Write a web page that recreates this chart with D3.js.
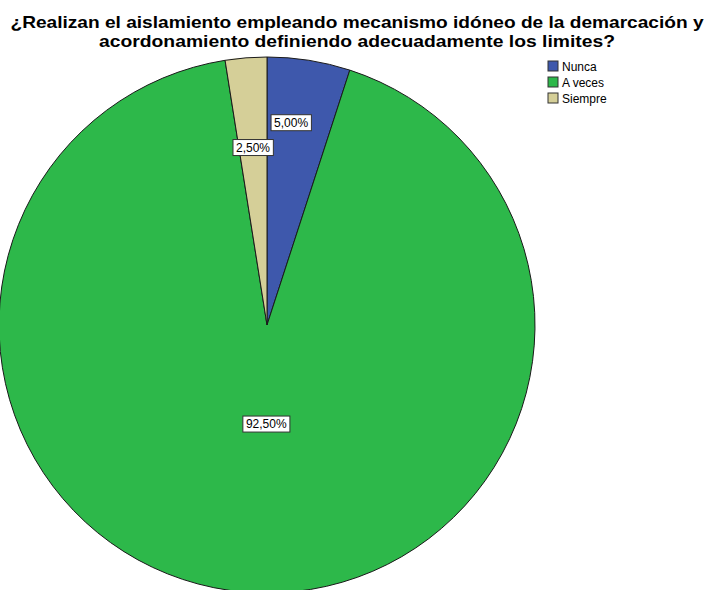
<!DOCTYPE html>
<html>
  <head>
  <title>Pie</title>
  <style>
    body, html { margin: 0; padding: 0; background: #fff; }
    svg { display: block; }
    text { font-family: "Liberation Sans", Arial, sans-serif; }
  </style>
  </head>
  <body>
  <svg id="svg" width="711" height="590"></svg>

  <script src="https://d3js.org/d3.v7.min.js"></script>
  <script>
    const categories = ['Nunca', 'A veces', 'Siempre']
    const values = [5.0, 92.5, 2.5]
    const valueLabels = ['5,00%', '92,50%', '2,50%']
    const colors = ['#3e58ac', '#2db84a', '#d5cf98']
    const titleLines = [
      '¿Realizan el aislamiento empleando mecanismo idóneo de la demarcación y',
      'acordonamiento definiendo adecuadamente los limites?'
    ]

    const svg = d3.select('#svg')
    const cx = 267, cy = 325, radius = 268

    // title (stretched to the width it has in the original)
    const titleWidths = [693, 516]
    svg.append('g')
      .selectAll('text')
      .data(titleLines)
      .join('text')
      .attr('x', 357)
      .attr('y', (d, i) => 28 + i * 19)
      .attr('text-anchor', 'middle')
      .attr('font-size', 16.5)
      .attr('font-weight', 'bold')
      .attr('fill', '#000')
      .attr('textLength', (d, i) => titleWidths[i])
      .attr('lengthAdjust', 'spacingAndGlyphs')
      .text(d => d)

    const pie = d3.pie().sort(null).value(d => d)
    const arcs = pie(values)
    const arc = d3.arc().innerRadius(0).outerRadius(radius)

    const g = svg.append('g').attr('transform', `translate(${cx},${cy})`)

    g.selectAll('path')
      .data(arcs)
      .join('path')
      .attr('d', arc)
      .attr('fill', (d, i) => colors[i])
      .attr('stroke', '#1a1a1a')
      .attr('stroke-width', 1)

    // label distance from centre, as a share of the radius
    const labelR = [0.765, 0.37, 0.665]
    const labels = g.selectAll('g.lab')
      .data(arcs)
      .join('g')
      .attr('class', 'lab')
      .attr('transform', (d, i) => {
        const a = (d.startAngle + d.endAngle) / 2
        const r = radius * labelR[i]
        let x = Math.sin(a) * r, y = -Math.cos(a) * r
        if (i === 0) x -= 8
        if (i === 1) x += 7
        return `translate(${x},${y})`
      })

    labels.append('text')
      .attr('text-anchor', 'middle')
      .attr('dy', '0.35em')
      .attr('font-size', 12)
      .attr('fill', '#000')
      .text((d, i) => valueLabels[i])

    labels.each(function () {
      const grp = d3.select(this)
      const bb = grp.select('text').node().getBBox()
      grp.insert('rect', 'text')
        .attr('x', bb.x - 3)
        .attr('y', bb.y - 1)
        .attr('width', bb.width + 6)
        .attr('height', bb.height + 2)
        .attr('fill', '#fff')
        .attr('stroke', '#333')
        .attr('stroke-width', 1)
    })

    // legend
    const legend = svg.append('g').attr('transform', 'translate(548,61)')
    const item = legend.selectAll('g')
      .data(categories)
      .join('g')
      .attr('transform', (d, i) => `translate(0,${i * 16})`)
    item.append('rect')
      .attr('width', 10)
      .attr('height', 10)
      .attr('fill', (d, i) => colors[i])
      .attr('stroke', '#333')
      .attr('stroke-width', 1)
    item.append('text')
      .attr('x', 14)
      .attr('y', 9.5)
      .attr('font-size', 12)
      .attr('fill', '#000')
      .text(d => d)
  </script>
  </body>
</html>
